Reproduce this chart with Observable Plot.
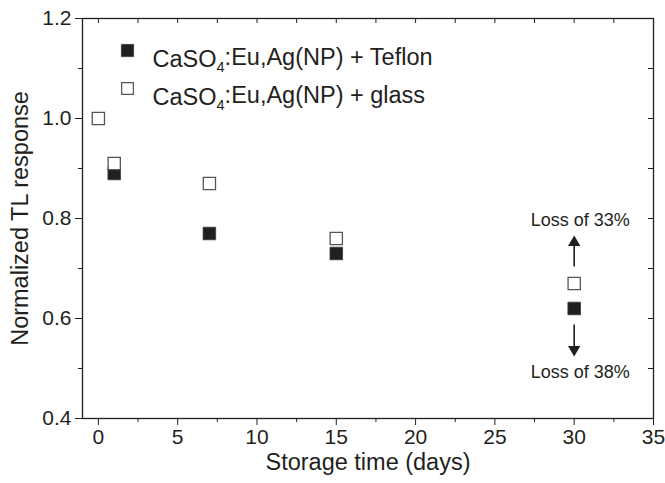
<!DOCTYPE html>
<html>
<head>
<meta charset="utf-8">
<script src="https://cdn.jsdelivr.net/npm/d3@7"></script>
<script src="https://cdn.jsdelivr.net/npm/@observablehq/plot@0.6"></script>
<style>
  html, body { margin: 0; padding: 0; background: #fff; }
  #chart svg { display: block; }
</style>
</head>
<body>
<div id="chart"></div>
<script>
// ---- data ----
const glassDays = [0, 1, 7, 15, 30];
const glassValues = [1.0, 0.91, 0.87, 0.76, 0.67];
const teflonDays = [1, 7, 15, 30];
const teflonValues = [0.89, 0.77, 0.73, 0.62];
const seriesNames = ["CaSO4:Eu,Ag(NP) + Teflon", "CaSO4:Eu,Ag(NP) + glass"];
const xTicks = [0, 5, 10, 15, 20, 25, 30, 35];
const xMinorTicks = [2.5, 7.5, 12.5, 17.5, 22.5, 27.5, 32.5];
const yTicks = [0.4, 0.6, 0.8, 1.0, 1.2];
const yMinorTicks = [0.5, 0.7, 0.9, 1.1];
const annotationLabels = ["Loss of 33%", "Loss of 38%"];
const annotationX = [30, 30];
const annotationY = [0.797, 0.492];
const arrowStart = [0.703, 0.587];
const arrowEnd = [0.752, 0.538];

const ink = "#231f20";
const font = "Liberation Sans, Arial, Helvetica, sans-serif";

const glass = glassDays.map((d, i) => ({day: d, v: glassValues[i]}));
const teflon = teflonDays.map((d, i) => ({day: d, v: teflonValues[i]}));
const arrows = annotationX.map((x, i) => ({x, y1: arrowStart[i], y2: arrowEnd[i], up: arrowEnd[i] > arrowStart[i]}));
const labels = annotationX.map((x, i) => ({x, y: annotationY[i], t: annotationLabels[i]}));

const chart = Plot.plot({
  width: 665,
  height: 483,
  marginLeft: 82,
  marginRight: 12,
  marginTop: 18,
  marginBottom: 65,
  style: {fontFamily: font, color: ink, background: "#fff"},
  x: {domain: [-1, 35]},
  y: {domain: [0.4, 1.2]},
  marks: [
    // bottom axis
    Plot.axisX({anchor: "bottom", ticks: xTicks, tickSize: 7, tickPadding: 4, fontSize: 21, stroke: ink, fill: ink, label: null, tickFormat: d => String(d)}),
    Plot.axisX({anchor: "bottom", ticks: xMinorTicks, tickSize: 4, stroke: ink, label: null, tickFormat: () => ""}),
    // left axis
    Plot.axisY({anchor: "left", ticks: yTicks, tickSize: 7, tickPadding: 4, fontSize: 21, stroke: ink, fill: ink, label: null, tickFormat: d3.format(".1f")}),
    Plot.axisY({anchor: "left", ticks: yMinorTicks, tickSize: 4, stroke: ink, label: null, tickFormat: () => ""}),
    // top & right inward ticks
    Plot.ruleX(xTicks.concat(xMinorTicks), {x: d => d, y1: 1.2, y2: 1.2, insetBottom: -5, stroke: ink, strokeWidth: 1}),
    Plot.ruleY(yTicks.concat(yMinorTicks), {y: d => d, x1: 35, x2: 35, insetLeft: -5, stroke: ink, strokeWidth: 1}),
    Plot.frame({stroke: ink, strokeWidth: 1.3}),
    // axis titles
    Plot.text(["Storage time (days)"], {frameAnchor: "bottom", dy: 51, fontSize: 23.5, fill: ink, textAnchor: "middle"}),
    Plot.text(["Normalized TL response"], {frameAnchor: "left", dx: -62, rotate: -90, fontSize: 23.5, fill: ink, textAnchor: "middle"}),
    // data
    Plot.dot(teflon, {x: "day", y: "v", symbol: "square", r: 7.1, fill: ink, stroke: "#3a3a3a", strokeWidth: 0.8}),
    Plot.dot(glass, {x: "day", y: "v", symbol: "square", r: 6.9, fill: "#fff", stroke: "#555", strokeWidth: 1.3}),
    // annotations
    Plot.ruleX(arrows, {x: "x", y1: "y1", y2: "y2", stroke: ink, strokeWidth: 1.6}),
    Plot.dot(arrows, {x: "x", y: "y2", symbol: "triangle", r: 3.6, fill: ink, stroke: ink, rotate: d => d.up ? 0 : 180}),
    Plot.text(labels, {x: "x", y: "y", text: "t", dx: 6, fontSize: 18, fill: ink}),
    // legend
    Plot.dot([seriesNames[0]], {frameAnchor: "top-left", dx: 45, dy: 32, symbol: "square", r: 6.9, fill: ink, stroke: ink, strokeWidth: 0.6}),
    Plot.dot([seriesNames[1]], {frameAnchor: "top-left", dx: 45, dy: 70, symbol: "square", r: 6.6, fill: "#fff", stroke: "#555", strokeWidth: 1.2}),
    Plot.text([seriesNames[0]], {frameAnchor: "top-left", dx: 70, dy: 32, text: d => d, textAnchor: "start", fontSize: 23.5, fill: ink}),
    Plot.text([seriesNames[1]], {frameAnchor: "top-left", dx: 70, dy: 70, text: d => d, textAnchor: "start", fontSize: 23.5, fill: ink})
  ]
});

document.getElementById("chart").appendChild(chart);

// Subscript the "4" in CaSO4 in the legend
d3.select(chart).selectAll("text").each(function() {
  const el = d3.select(this);
  const t = el.text();
  if (t.startsWith("CaSO4")) {
    el.text(null);
    el.append("tspan").text("CaSO");
    el.append("tspan").attr("font-size", "0.62em").attr("dy", "0.3em").text("4");
    el.append("tspan").attr("dy", "-0.3em").text(t.slice(5));
  }
});
</script>
</body>
</html>
